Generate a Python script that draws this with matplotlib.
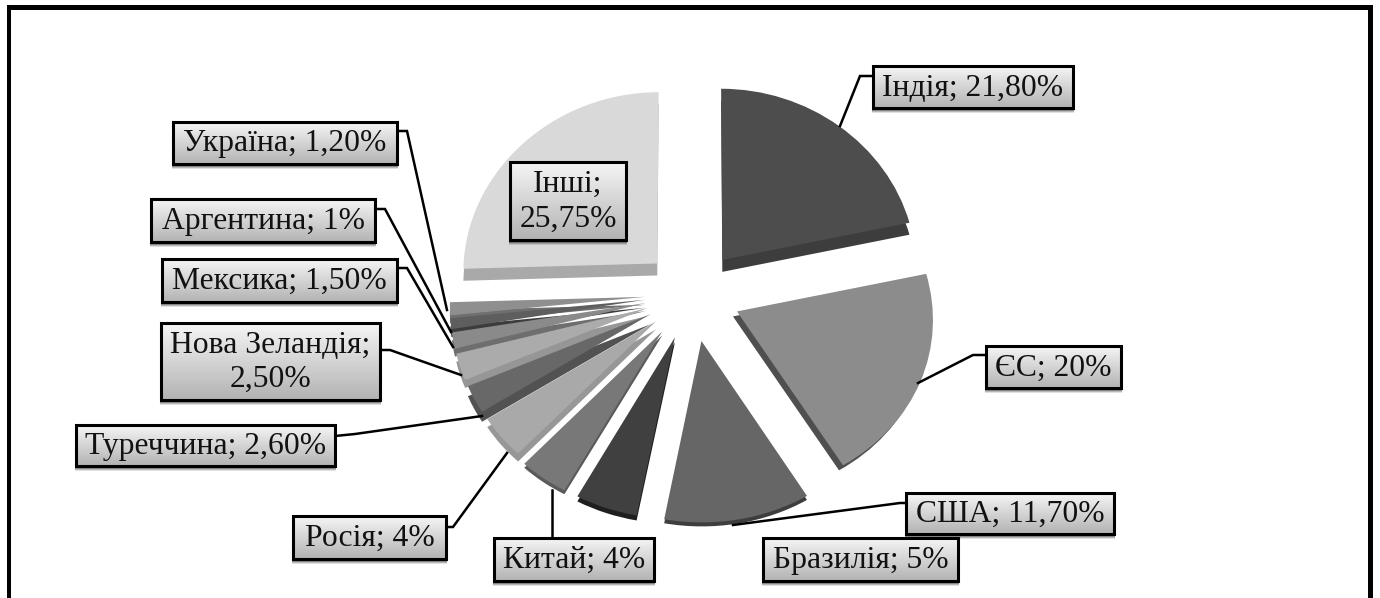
#!/usr/bin/env python3
# -*- coding: utf-8 -*-
import matplotlib
matplotlib.use('Agg')
import matplotlib.pyplot as plt
import numpy as np
from matplotlib.patches import Rectangle
from matplotlib.transforms import Affine2D, Transform

plt.rcParams['font.family'] = ['Liberation Serif', 'DejaVu Serif']

# values as written on the labels, clockwise from the top
countries = ['Індія', 'ЄС', 'США', 'Бразилія', 'Китай', 'Росія', 'Туреччина',
             'Нова Зеландія', 'Мексика', 'Аргентина', 'Україна', 'Інші']
values = [21.80, 20, 11.70, 5, 4, 4, 2.60, 2.50, 1.50, 1, 1.20, 25.75]
value_text = ['21,80%', '20%', '11,70%', '5%', '4%', '4%', '2,60%', '2,50%',
              '1,50%', '1%', '1,20%', '25,75%']

explode = [0.25, 0.25, 0.27, 0.26, 0.26, 0.24, 0.24, 0.24, 0.24, 0.24, 0.24, 0.25]
top_colors = ['#4d4d4d', '#8c8c8c', '#666666', '#404040', '#787878', '#a9a9a9',
              '#686868', '#ababab', '#8a8a8a', '#5e5e5e', '#8f8f8f', '#d9d9d9']
side_colors = ['#3d3d3d', '#4f4f4f', '#3e3e3e', '#1f1f1f', '#5a5a5a', '#979797',
               '#525252', '#969696', '#6e6e6e', '#3c3c3c', '#6f6f6f', '#a9a9a9']
side_dx = [0, -4, 0, 0, 0, 0, 0, 0, 0, 0, 0, 0]
side_dy = [12, 5, 4, 5, 4, 8, 10, 8, 8, 8, 8, 12]

# label boxes x0, x1, y0, y1 in pixels of the picture
boxes = [(873, 1073, 66, 108), (986, 1121, 346, 388), (906, 1114, 493, 534),
         (763, 958, 538, 581), (494, 654, 538, 581), (293, 446, 516, 559),
         (76, 335, 425, 466), (161, 380, 323, 400), (162, 397, 259, 302),
         (151, 375, 199, 242), (173, 397, 122, 164), (510, 626, 162, 240)]
wrap = [False] * 7 + [True] + [False] * 3 + [True]

leaders = [[(840, 126), (860, 76), (873, 76)],
           [(918, 383), (973, 355), (986, 355)],
           [(733, 525), (900, 503), (906, 503)],
           None,
           [(552, 490), (552, 538)],
           [(507, 453), (453, 527), (446, 527)],
           [(482, 416), (355, 434), (335, 436)],
           [(461, 375), (390, 350), (380, 350)],
           [(453, 347), (407, 268), (397, 268)],
           [(451, 332), (385, 209), (375, 209)],
           [(447, 310), (407, 131), (397, 131)],
           None]


class Persp(Transform):
    # slight tilt of the pie, front is bigger than back
    input_dims = 2
    output_dims = 2

    def transform_non_affine(self, values):
        u, v = values[:, 0], values[:, 1]
        return np.column_stack([692 + 195 * u * (1 - 0.04 * v), 294 - 176 * v * (1 - 0.02 * v)])


fig = plt.figure(figsize=(13.8, 5.98), dpi=100)
ax = fig.add_axes([0, 0, 1, 1])

n = len(values)
sides, _ = ax.pie(values, explode=explode, startangle=90, counterclock=False, colors=side_colors)
tops, _ = ax.pie(values, explode=explode, startangle=90, counterclock=False, colors=top_colors)
for i in range(n):
    sides[i].set_transform(Persp() + Affine2D().translate(side_dx[i], side_dy[i]) + ax.transData)
    tops[i].set_transform(Persp() + ax.transData)
    sides[i].set_zorder(2 * (n - i))
    tops[i].set_zorder(2 * (n - i) + 1)

gradient = np.linspace(0.96, 0.70, 64).reshape(-1, 1)
for i in range(n):
    x0, x1, y0, y1 = boxes[i]
    if leaders[i] is not None:
        xs, ys = zip(*leaders[i])
        ax.plot(xs, ys, color='black', lw=1.8, zorder=40, solid_joinstyle='miter')
    for off, alpha in zip([4, 3, 2], [0.12, 0.18, 0.25]):
        ax.add_patch(Rectangle((x0 - 1, y0 + off), x1 - x0 + 2, y1 - y0 + 1, color='black',
                               alpha=alpha, lw=0, zorder=41))
    ax.imshow(gradient, extent=(x0, x1, y1, y0), cmap='gray', vmin=0, vmax=1,
              aspect='auto', zorder=42)
    ax.add_patch(Rectangle((x0, y0), x1 - x0, y1 - y0, fill=False, ec='black', lw=2.2, zorder=43))
    sep = ';\n' if wrap[i] else '; '
    ax.text((x0 + x1) / 2, (y0 + y1) / 2 + 1, countries[i] + sep + value_text[i], fontsize=22.8,
            ha='center', va='center', ma='center', color='#111111', linespacing=1.25, zorder=44)

# thick frame, the bottom side is cut off in the original
ax.add_patch(Rectangle((7, 5), 1366, 5, color='black', lw=0, zorder=50))
ax.add_patch(Rectangle((7, 5), 4, 593, color='black', lw=0, zorder=50))
ax.add_patch(Rectangle((1368, 5), 5, 593, color='black', lw=0, zorder=50))

ax.set_aspect('auto')
ax.set_xlim(0, 1380)
ax.set_ylim(598, 0)
ax.axis('off')
fig.savefig('out.png', dpi=100, facecolor='white')
